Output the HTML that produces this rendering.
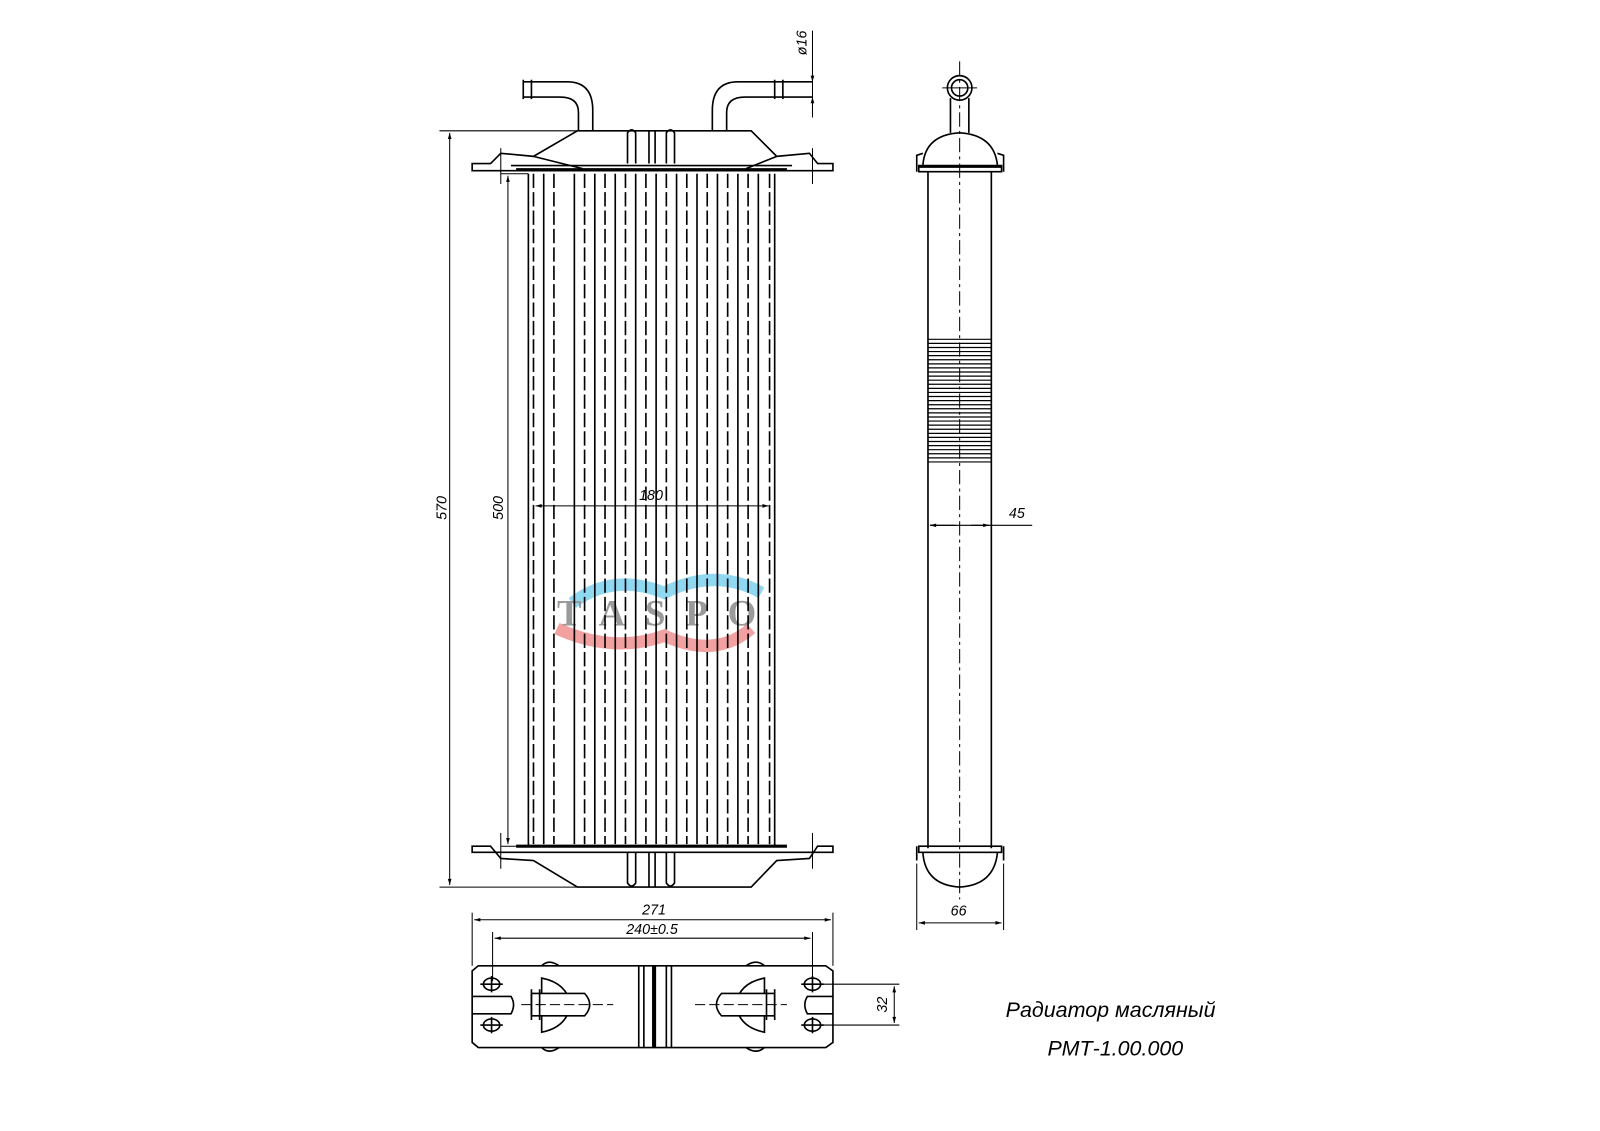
<!DOCTYPE html>
<html><head><meta charset="utf-8"><style>
html,body{margin:0;padding:0;background:#fff;}
svg{display:block}
text{font-family:"Liberation Sans",sans-serif;font-style:italic}
</style></head><body>
<svg width="1600" height="1131" viewBox="0 0 1600 1131" xmlns="http://www.w3.org/2000/svg">
<defs>
<marker id="a" viewBox="0 0 10 10" refX="10" refY="5" markerWidth="10" markerHeight="6" orient="auto-start-reverse"><path d="M0,2 L10,5 L0,8z" fill="#000"/></marker>
</defs>
<g transform="scale(1.022)">
<g fill="none" stroke="#000" stroke-width="1.6">
<path d="M560,590 Q600,560 650,580 Q700,555 745,580" stroke="#8fd8f2" stroke-width="12"/>
<path d="M545,615 Q600,640 650,622 Q700,645 735,615" stroke="#f2a0a0" stroke-width="12"/>
</g>
<text x="545" y="612" font-size="36" style="font-family:'Liberation Serif',serif;font-style:normal;font-weight:bold;fill:#9a9a9a" textLength="195">TASPO</text>
<g fill="none" stroke="#000" stroke-width="1.6">
<line x1="517" y1="170" x2="517" y2="828"/>
<line x1="758" y1="170" x2="758" y2="828"/>
<g stroke-dasharray="14,4">
<line x1="522" y1="170" x2="522" y2="826"/>
<line x1="542" y1="170" x2="542" y2="826"/>
<line x1="572" y1="170" x2="572" y2="826"/>
<line x1="592" y1="170" x2="592" y2="826"/>
<line x1="612" y1="170" x2="612" y2="826"/>
<line x1="632" y1="170" x2="632" y2="826"/>
<line x1="652" y1="170" x2="652" y2="826"/>
<line x1="672" y1="170" x2="672" y2="826"/>
<line x1="692" y1="170" x2="692" y2="826"/>
<line x1="712" y1="170" x2="712" y2="826"/>
<line x1="732" y1="170" x2="732" y2="826"/>
<line x1="753" y1="170" x2="753" y2="826"/>
</g>
<line x1="532" y1="170" x2="532" y2="826"/>
<line x1="562" y1="170" x2="562" y2="826"/>
<line x1="582" y1="170" x2="582" y2="826"/>
<line x1="602" y1="170" x2="602" y2="826"/>
<line x1="622" y1="170" x2="622" y2="826"/>
<line x1="642" y1="170" x2="642" y2="826"/>
<line x1="662" y1="170" x2="662" y2="826"/>
<line x1="682" y1="170" x2="682" y2="826"/>
<line x1="702" y1="170" x2="702" y2="826"/>
<line x1="722" y1="170" x2="722" y2="826"/>
<line x1="742" y1="170" x2="742" y2="826"/>
<path d="M462,160 L462,167 L815,167 L815,160 L800,160 L792,150 L760,153 L735,128 L565,128 L522,153 L490,150 L480,160 Z"/>
<line x1="505" y1="166" x2="770" y2="166" stroke-width="3"/>
<line x1="500" y1="162" x2="775" y2="162"/>
<path d="M522,153 L570,165 M760,153 L730,165"/>
<path d="M614,160 L614,130 Q618,124 622,130 L622,160 M652,160 L652,130 Q656,124 660,130 L660,160 M635,160 L635,128 M641,160 L641,128"/>
<path d="M566,128 L566,110 Q566,95 548,95 L512,95 M580,128 L580,108 Q580,80 555,80 L512,80 M512,78 L512,97 M520,78 L520,97"/>
<path d="M697,128 L697,108 Q697,80 722,80 L795,80 M711,128 L711,110 Q711,95 729,95 L795,95 M758,78 L758,97 M766,78 L766,97"/>
<path d="M462,828 L462,834 L815,834 L815,828 L800,828 L792,840 L760,842 L735,868 L565,868 L522,842 L490,840 L480,828 Z"/>
<line x1="505" y1="828" x2="770" y2="828" stroke-width="3"/>
<path d="M614,834 L614,864 Q618,870 622,864 L622,834 M652,834 L652,864 Q656,870 660,864 L660,834 M635,834 L635,868 M641,834 L641,868"/>
<line x1="430" y1="128" x2="565" y2="128" stroke-width="1"/>
<line x1="430" y1="868" x2="565" y2="868" stroke-width="1"/>
<line x1="440" y1="130" x2="440" y2="866" stroke-width="1" marker-start="url(#a)" marker-end="url(#a)"/>
<line x1="490" y1="170" x2="517" y2="170" stroke-width="1"/>
<line x1="490" y1="828" x2="517" y2="828" stroke-width="1"/>
<line x1="497" y1="172" x2="497" y2="826" stroke-width="1" marker-start="url(#a)" marker-end="url(#a)"/>
<line x1="524" y1="495" x2="752" y2="495" stroke-width="1" marker-start="url(#a)" marker-end="url(#a)"/>
<line x1="795" y1="30" x2="795" y2="115" stroke-width="1"/>
<line x1="795" y1="60" x2="795" y2="80" stroke-width="1" marker-end="url(#a)"/>
<line x1="795" y1="112" x2="795" y2="95" stroke-width="1" marker-end="url(#a)"/>
<line x1="490" y1="145" x2="490" y2="180" stroke-width="1"/>
<line x1="795" y1="145" x2="795" y2="180" stroke-width="1"/>
<line x1="490" y1="815" x2="490" y2="850" stroke-width="1"/>
<line x1="795" y1="815" x2="795" y2="850" stroke-width="1"/>
<line x1="908" y1="168" x2="908" y2="830"/>
<line x1="970" y1="168" x2="970" y2="830"/>
<line x1="939" y1="60" x2="939" y2="880" stroke-width="1" stroke-dasharray="14,4,3,4"/>
<circle cx="939" cy="86" r="12"/><circle cx="939" cy="86" r="8"/>
<line x1="922" y1="86" x2="956" y2="86" stroke-width="1"/>
<path d="M930,96 L930,130 M948,96 L948,130"/>
<path d="M903,162 Q905,132 939,130 Q973,132 976,162"/>
<path d="M897,168 L897,152 L903,150 M982,168 L982,152 L976,150"/>
<rect x="899" y="162" width="81" height="6"/>
<line x1="899" y1="163" x2="980" y2="163" stroke-width="2.5"/>
<path d="M903,834 Q905,866 939,868 Q973,866 976,834"/>
<path d="M897,828 L897,842 M982,828 L982,842"/>
<rect x="899" y="828" width="81" height="6"/>
<g stroke-width="1.2">
<path d="M908,332 L970,332 M908,336 L970,336 M908,340 L970,340 M908,344 L970,344 M908,348 L970,348 M908,352 L970,352 M908,356 L970,356 M908,360 L970,360 M908,364 L970,364 M908,368 L970,368 M908,372 L970,372 M908,376 L970,376 M908,380 L970,380 M908,384 L970,384 M908,388 L970,388 M908,392 L970,392 M908,396 L970,396 M908,400 L970,400 M908,404 L970,404 M908,408 L970,408 M908,412 L970,412 M908,416 L970,416 M908,420 L970,420 M908,424 L970,424 M908,428 L970,428 M908,432 L970,432 M908,436 L970,436 M908,440 L970,440 M908,444 L970,444 M908,448 L970,448 M908,452 L970,452"/>
</g>
<line x1="910" y1="514" x2="1010" y2="514" stroke-width="1"/>
<line x1="935" y1="514" x2="910" y2="514" stroke-width="1" marker-end="url(#a)"/>
<line x1="950" y1="514" x2="968" y2="514" stroke-width="1" marker-end="url(#a)"/>
<line x1="897" y1="845" x2="897" y2="910" stroke-width="1"/>
<line x1="982" y1="845" x2="982" y2="910" stroke-width="1"/>
<line x1="899" y1="903" x2="980" y2="903" stroke-width="1" marker-start="url(#a)" marker-end="url(#a)"/>
<line x1="462" y1="893" x2="462" y2="945" stroke-width="1"/>
<line x1="815" y1="893" x2="815" y2="945" stroke-width="1"/>
<line x1="482" y1="912" x2="482" y2="960" stroke-width="1"/>
<line x1="795" y1="912" x2="795" y2="960" stroke-width="1"/>
<line x1="464" y1="900" x2="813" y2="900" stroke-width="1" marker-start="url(#a)" marker-end="url(#a)"/>
<line x1="484" y1="918" x2="793" y2="918" stroke-width="1" marker-start="url(#a)" marker-end="url(#a)"/>
<path d="M462,950 L468,945 L808,945 L815,950 L815,1020 L808,1025 L468,1025 L462,1020 Z"/>
<path d="M530,945 Q537,938 547,945 M730,945 Q740,938 748,945 M530,1025 Q537,1032 547,1025 M730,1025 Q740,1032 748,1025"/>
<ellipse cx="481" cy="963" rx="8" ry="6"/><ellipse cx="481" cy="1003" rx="8" ry="6"/>
<ellipse cx="795" cy="963" rx="8" ry="6"/><ellipse cx="795" cy="1003" rx="8" ry="6"/>
<path d="M470,963 L492,963 M481,955 L481,971 M470,1003 L492,1003 M481,995 L481,1011 M784,963 L806,963 M795,955 L795,971 M784,1003 L806,1003 M795,995 L795,1011"/>
<path d="M462,975 L500,975 Q505,983 500,992 L462,992 M815,975 L790,975 Q785,983 790,992 L815,992"/>
<path d="M530,957 Q555,962 558,983 Q555,1005 530,1010 Z M748,957 Q723,962 720,983 Q723,1005 748,1010 Z" fill="#fff"/>
<path d="M520,972 L572,972 Q582,983 572,994 L520,994 Z M758,972 L706,972 Q696,983 706,994 L758,994 Z" fill="#fff"/>
<path d="M528,968 L528,998 M520,968 L520,998 M750,968 L750,998 M758,968 L758,998"/>
<line x1="510" y1="983" x2="600" y2="983" stroke-width="1" stroke-dasharray="10,4"/>
<line x1="680" y1="983" x2="770" y2="983" stroke-width="1" stroke-dasharray="10,4"/>
<path d="M625,945 L625,1025 M630,945 L630,1025 M652,945 L652,1025 M657,945 L657,1025"/>
<line x1="640" y1="945" x2="640" y2="1025" stroke-width="4"/>
<line x1="803" y1="963" x2="880" y2="963" stroke-width="1"/>
<line x1="803" y1="1003" x2="880" y2="1003" stroke-width="1"/>
<line x1="875" y1="965" x2="875" y2="1001" stroke-width="1" marker-start="url(#a)" marker-end="url(#a)"/>
</g>
<g font-size="14" fill="#000">
<text x="637" y="489" text-anchor="middle">180</text>
<text transform="translate(437,497) rotate(-90)" text-anchor="middle">570</text>
<text transform="translate(492,497) rotate(-90)" text-anchor="middle">500</text>
<text transform="translate(789,42) rotate(-90)" text-anchor="middle">ø16</text>
<text x="995" y="507" text-anchor="middle">45</text>
<text x="938" y="896" text-anchor="middle">66</text>
<text x="640" y="895" text-anchor="middle">271</text>
<text x="638" y="914" text-anchor="middle">240±0.5</text>
<text transform="translate(868,983) rotate(-90)" text-anchor="middle">32</text>
<text x="984" y="995" font-size="21">Радиатор масляный</text>
<text x="1025" y="1033" font-size="21">РМТ-1.00.000</text>
</g>
</g>
</svg>
</body></html>
